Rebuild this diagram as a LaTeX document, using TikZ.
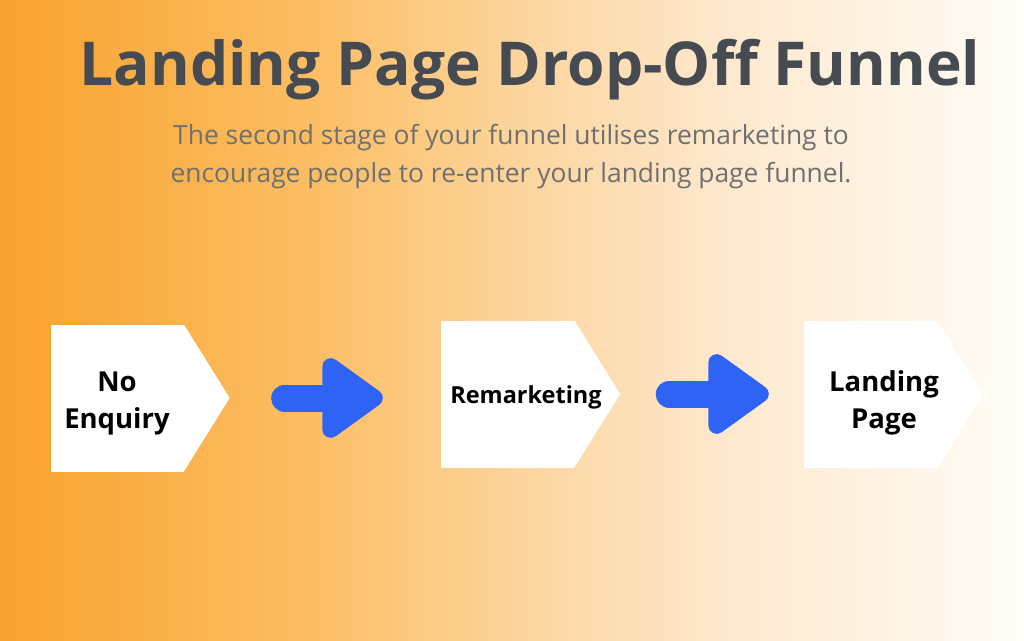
\documentclass[tikz,border=0pt]{standalone}
\usepackage{fontspec}
\setmainfont{Open Sans}
\usepackage{xcolor}
\usepackage{tikz}
\usetikzlibrary{arrows, arrows.meta}

\definecolor{titlegray}{RGB}{70,75,82}
\definecolor{subgray}{RGB}{112,112,112}
\definecolor{flowblue}{RGB}{46,99,243}
\definecolor{bgA}{RGB}{248,162,45}
\definecolor{bgB}{RGB}{252,190,100}
\definecolor{bgC}{RGB}{252,212,155}
\definecolor{bgD}{RGB}{254,232,205}
\definecolor{bgE}{RGB}{255,253,247}

\tikzset{
  stage/.style={fill=white, minimum width=133pt, minimum height=147pt, inner sep=0pt},
  stagetext/.style={align=center, font=\fontsize{27.5}{37}\selectfont\bfseries, text=black},
  flow/.style={line width=27pt, line cap=round, flowblue, -{Triangle[length=67pt, width=91pt, round]}}
}

\begin{document}
\begin{tikzpicture}[x=1pt, y=-1pt]
\useasboundingbox (0,0) rectangle (1024,640);
%background fade
\shade[left color=bgA, right color=bgB] (0,0) rectangle (314,640);
\shade[left color=bgB, right color=bgC] (313,0) rectangle (511,640);
\shade[left color=bgC, right color=bgD] (510,0) rectangle (721,640);
\shade[left color=bgD, right color=bgE] (720,0) rectangle (1024,640);

\node (title) [anchor=base, text=titlegray, font=\fontsize{60.5}{64}\selectfont\bfseries] at (530,85) {Landing Page Drop-Off Funnel};
\node (sub) [anchor=base, align=center, text=subgray, font=\fontsize{26.4}{38}\selectfont] at (511,182)
  {The second stage of your funnel utilises remarketing to\\encourage people to re-enter your landing page funnel.};

\node[stage] (noenq) at (117,398) {};
\node[stage] (remark) at (507.5,394) {};
\node[stage] (landing) at (870.5,394.5) {};
\foreach \s in {noenq,remark,landing}
  \fill[white] (\s.north east) -- ([xshift=46pt]\s.east) -- (\s.south east) -- cycle; %point

\node[stagetext, anchor=base] (noenqtext) at (117,428) {No\\Enquiry};
\node[stagetext, anchor=base, font=\fontsize{23.5}{30}\selectfont\bfseries] (remarktext) at (526,403) {Remarketing};
\node[stagetext, anchor=base] (landingtext) at (884,428) {Landing\\Page};

\draw[flow] ([xshift=101pt]noenq.east) -- ([xshift=-58pt]noenq.east -| remark.west);
\draw[flow] ([xshift=95pt]remark.east) -- ([xshift=-35pt]remark.east -| landing.west);
\end{tikzpicture}
\end{document}
